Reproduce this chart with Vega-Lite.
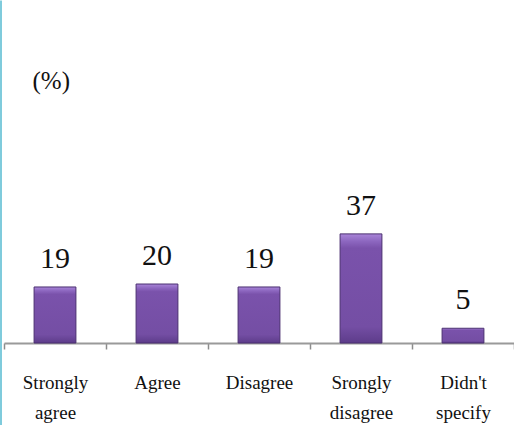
{
  "$schema": "https://vega.github.io/schema/vega-lite/v6.json",
  "width": 514,
  "height": 425,
  "padding": 0,
  "autosize": {"type": "none"},
  "background": "white",
  "config": {"view": {"stroke": null}},
  "data": {
    "values": [
      {"response": "Strongly agree", "pct": 19},
      {"response": "Agree", "pct": 20},
      {"response": "Disagree", "pct": 19},
      {"response": "Srongly disagree", "pct": 37},
      {"response": "Didn't specify", "pct": 5}
    ]
  },
  "encoding": {
    "x": {
      "field": "response",
      "type": "nominal",
      "sort": null,
      "scale": {"range": [4, 514], "paddingInner": 0, "paddingOuter": 0},
      "axis": {
        "title": null,
        "orient": "bottom",
        "offset": -82,
        "labelAngle": 0,
        "tickBand": "extent",
        "tickSize": 6,
        "tickColor": "#8c8c8c",
        "tickWidth": 1.5,
        "domainColor": "#9a9a9a",
        "domainWidth": 2,
        "labelExpr": "split(datum.label, ' ')",
        "labelFont": "Liberation Serif, Times New Roman, serif",
        "labelFontSize": 19,
        "labelLineHeight": 30,
        "labelColor": "#111111",
        "labelPadding": 24,
        "labelBaseline": "top"
      }
    },
    "y": {
      "field": "pct",
      "type": "quantitative",
      "scale": {"domain": [-27.8, 116.3], "nice": false, "zero": false},
      "axis": {
        "title": "(%)",
        "orient": "left",
        "labels": false,
        "ticks": false,
        "grid": false,
        "domain": true,
        "domainColor": "#7fcbdc",
        "domainWidth": 3,
        "titleAngle": 0,
        "titleAlign": "left",
        "titleBaseline": "alphabetic",
        "titleX": 32,
        "titleY": 88,
        "titleFont": "Liberation Serif, Times New Roman, serif",
        "titleFontSize": 25,
        "titleFontWeight": "normal",
        "titleColor": "#111111"
      }
    }
  },
  "layer": [
    {
      "mark": {
        "type": "bar",
        "width": {"band": 0.41},
        "stroke": "#4a2f70",
        "strokeWidth": 1,
        "fill": {
          "gradient": "linear",
          "x1": 0, "y1": 0, "x2": 0, "y2": 1,
          "stops": [
            {"offset": 0, "color": "#a985d8"},
            {"offset": 0.07, "color": "#8c66bf"},
            {"offset": 0.13, "color": "#7a52ab"},
            {"offset": 0.85, "color": "#744ea4"},
            {"offset": 1, "color": "#5d3c8a"}
          ]
        }
      },
      "encoding": {"y2": {"datum": 0}}
    },
    {
      "mark": {
        "type": "text",
        "baseline": "alphabetic",
        "dy": -19,
        "font": "Liberation Serif, Times New Roman, serif",
        "fontSize": 30,
        "color": "#111111"
      },
      "encoding": {"text": {"field": "pct", "type": "quantitative"}}
    }
  ]
}
